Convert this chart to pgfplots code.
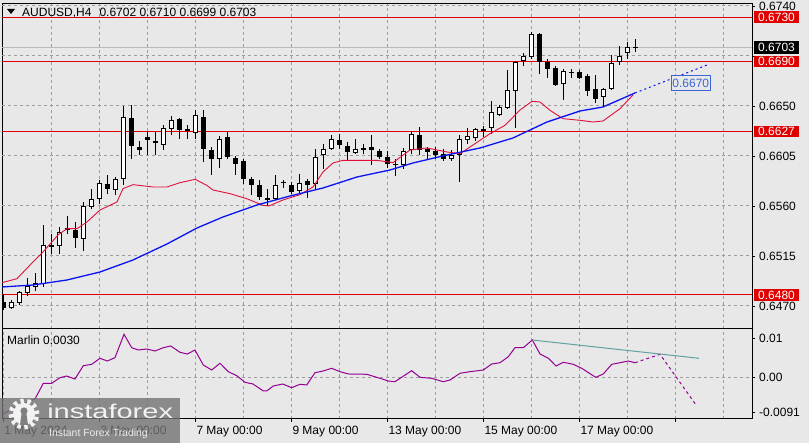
\documentclass[border=0pt]{standalone}
\usepackage{pgfplots}
\pgfplotsset{compat=1.18}
\usepackage{pgfplotstable}
\usepackage{fontspec}
\setmainfont{Liberation Sans}

\pgfdeclarelayer{background}
\pgfsetlayers{background,main}

\definecolor{bg}{HTML}{E8E8E8}
\definecolor{gridc}{HTML}{9C9C9C}
\definecolor{maRed}{HTML}{E0103A}
\definecolor{maBlue}{HTML}{0A14F0}
\definecolor{marlin}{HTML}{940094}
\definecolor{tealc}{HTML}{5FA3A0}
\definecolor{lvl}{HTML}{E00000}
\definecolor{lblblue}{HTML}{3A66D8}

% AUDUSD H4 candles: index, open, high, low, close
\pgfplotstableread{
k o h l c
0 0.64736 0.64808 0.64664 0.64682
1 0.64682 0.64754 0.64673 0.64736
2 0.64727 0.64835 0.64709 0.64826
3 0.64817 0.64952 0.64790 0.64880
4 0.64871 0.64997 0.64835 0.64907
5 0.64898 0.65429 0.64871 0.65249
6 0.65249 0.65348 0.65168 0.65231
7 0.65240 0.65411 0.65168 0.65366
8 0.65402 0.65510 0.65348 0.65384
9 0.65384 0.65456 0.65222 0.65312
10 0.65303 0.65636 0.65195 0.65600
11 0.65591 0.65753 0.65573 0.65663
12 0.65663 0.65834 0.65618 0.65807
13 0.65798 0.65879 0.65708 0.65753
14 0.65744 0.65861 0.65699 0.65843
15 0.65843 0.66500 0.65789 0.66401
16 0.66392 0.66509 0.66023 0.66140
17 0.66131 0.66185 0.66059 0.66104
18 0.66221 0.66275 0.66059 0.66194
19 0.66185 0.66266 0.66059 0.66167
20 0.66149 0.66329 0.66104 0.66302
21 0.66293 0.66410 0.66239 0.66374
22 0.66383 0.66392 0.66203 0.66284
23 0.66293 0.66329 0.66203 0.66275
24 0.66257 0.66464 0.66203 0.66419
25 0.66401 0.66464 0.65996 0.66113
26 0.66104 0.66131 0.65879 0.66023
27 0.66023 0.66230 0.65942 0.66203
28 0.66221 0.66266 0.66023 0.66041
29 0.66032 0.66050 0.65879 0.65978
30 0.66005 0.66023 0.65798 0.65843
31 0.65843 0.65861 0.65699 0.65789
32 0.65789 0.65834 0.65654 0.65681
33 0.65672 0.65753 0.65600 0.65654
34 0.65663 0.65879 0.65654 0.65789
35 0.65807 0.65834 0.65762 0.65807
36 0.65789 0.65816 0.65708 0.65726
37 0.65735 0.65888 0.65708 0.65807
38 0.65825 0.65843 0.65672 0.65789
39 0.65798 0.66113 0.65753 0.66041
40 0.66059 0.66158 0.65933 0.66113
41 0.66113 0.66239 0.66104 0.66203
42 0.66194 0.66248 0.66113 0.66149
43 0.66140 0.66176 0.66014 0.66086
44 0.66077 0.66203 0.66068 0.66113
45 0.66104 0.66158 0.66068 0.66122
46 0.66131 0.66239 0.65969 0.66104
47 0.66095 0.66113 0.66023 0.66041
48 0.66041 0.66095 0.65942 0.65978
49 0.65969 0.66023 0.65870 0.65978
50 0.65969 0.66122 0.65933 0.66095
51 0.66104 0.66275 0.66068 0.66248
52 0.66239 0.66311 0.66059 0.66104
53 0.66113 0.66131 0.66023 0.66086
54 0.66095 0.66131 0.66023 0.66059
55 0.66068 0.66113 0.66005 0.66023
56 0.66023 0.66104 0.66005 0.66059
57 0.66059 0.66239 0.65816 0.66203
58 0.66194 0.66302 0.66158 0.66230
59 0.66212 0.66302 0.66185 0.66293
60 0.66293 0.66320 0.66221 0.66275
61 0.66302 0.66545 0.66248 0.66446
62 0.66419 0.66509 0.66410 0.66491
63 0.66482 0.66824 0.66473 0.66644
64 0.66635 0.66905 0.66302 0.66896
65 0.66905 0.66977 0.66860 0.66950
66 0.66941 0.67166 0.66923 0.67148
67 0.67148 0.67157 0.66788 0.66896
68 0.66896 0.66923 0.66752 0.66833
69 0.66842 0.66860 0.66680 0.66689
70 0.66698 0.66833 0.66554 0.66815
71 0.66806 0.66833 0.66752 0.66797
72 0.66806 0.66824 0.66743 0.66752
73 0.66770 0.66788 0.66590 0.66635
74 0.66653 0.66779 0.66527 0.66563
75 0.66581 0.66662 0.66500 0.66653
76 0.66653 0.66959 0.66644 0.66887
77 0.66896 0.67040 0.66869 0.66950
78 0.66977 0.67076 0.66923 0.67031
79 0.67020 0.67100 0.66990 0.67030
}\candles

% slow moving average (blue)
\pgfplotstableread{
k v
-0.16 0.64871
3.71 0.64889
7.96 0.64934
12.09 0.65006
16.21 0.65114
20.46 0.65258
24.21 0.65402
27.46 0.65501
31.71 0.65609
35.84 0.65690
39.96 0.65762
44.21 0.65861
48.34 0.65924
51.21 0.65987
55.46 0.66059
59.59 0.66122
63.71 0.66212
67.96 0.66356
72.09 0.66455
74.96 0.66491
78.96 0.66617
}\maslow

% fast moving average (red)
\pgfplotstableread{
k v
-0.16 0.64910
1.71 0.64946
3.71 0.65096
4.96 0.65186
6.84 0.65339
7.96 0.65396
9.21 0.65396
10.46 0.65456
12.09 0.65564
14.21 0.65636
14.96 0.65756
16.21 0.65792
18.71 0.65771
20.46 0.65771
22.09 0.65810
23.99 0.65840
25.43 0.65786
26.21 0.65744
28.34 0.65711
30.42 0.65666
32.46 0.65606
33.20 0.65600
34.96 0.65654
37.09 0.65702
38.71 0.65771
39.96 0.65906
41.21 0.65987
42.46 0.66011
46.71 0.66011
48.71 0.65990
50.84 0.66104
52.96 0.66122
55.46 0.66086
57.09 0.66071
58.71 0.66149
60.84 0.66251
62.71 0.66326
64.59 0.66464
66.09 0.66542
67.09 0.66536
68.34 0.66461
69.96 0.66386
72.09 0.66371
73.71 0.66356
74.96 0.66365
77.09 0.66476
78.71 0.66599
}\mafast

% Marlin oscillator
\pgfplotstableread{
k v
-0.08 -0.00949
1.25 -0.00795
2.71 -0.00667
3.96 -0.00556
5.00 -0.00154
6.05 -0.00154
7.09 -0.00010
7.92 0.00033
8.96 -0.00044
10.00 0.00297
11.05 0.00333
12.09 0.00487
13.00 0.00418
13.96 0.00503
15.09 0.01103
16.05 0.00759
16.88 0.00700
17.93 0.00726
18.96 0.00674
20.00 0.00759
20.93 0.00803
22.09 0.00641
23.00 0.00597
23.96 0.00700
25.00 0.00315
26.05 0.00187
27.09 0.00359
28.13 0.00144
29.18 0.00041
30.21 -0.00128
31.21 -0.00172
32.50 -0.00351
32.93 -0.00351
33.75 -0.00223
34.93 -0.00172
36.05 -0.00267
37.09 -0.00179
37.93 -0.00197
38.96 0.00118
40.00 0.00162
41.05 0.00231
42.09 0.00144
43.13 0.00085
45.43 0.00077
47.09 -0.00026
48.13 -0.00095
48.96 -0.00113
49.59 -0.00026
51.05 0.00169
52.09 0.00000
53.55 -0.00026
55.00 -0.00113
55.84 -0.00069
57.09 0.00103
58.34 0.00144
60.00 0.00187
61.05 0.00341
62.09 0.00374
63.13 0.00528
63.96 0.00759
65.00 0.00759
66.13 0.00956
67.09 0.00597
68.13 0.00487
69.09 0.00290
70.00 0.00385
71.25 0.00333
72.30 0.00231
74.05 0.00000
75.00 0.00085
76.05 0.00333
77.09 0.00374
78.13 0.00418
78.96 0.00374
}\marlin

\tikzset{
  lvlbox/.style={anchor=west, fill=lvl, text=white, inner xsep=4.5pt,
    inner ysep=0pt, minimum height=11.5pt, xshift=1.5pt},
  gridline/.style={gridc, dash pattern=on 3pt off 3pt, line width=1pt},
}

\begin{document}
\fontsize{12}{14}\selectfont
\begin{tikzpicture}[x=1pt,y=1pt]

% price panel
\begin{axis}[width=750pt, height=325pt, scale only axis,
  xmin=-0.1625, xmax=93.5875, ymin=0.64493, ymax=0.67418,
  clip mode=individual,
  axis line style={black, line width=1pt},
  xtick=\empty,
  ytick={0.6470,0.6515,0.6560,0.6605,0.6650,0.6695,0.6740},
  yticklabels={0.6470,0.6515,0.6560,0.6605,0.6650,,0.6740},
  scaled y ticks=false,
  ytick pos=right, yticklabel pos=right,
  ytick style={black, line width=0.8pt},
  tick align=outside, major tick length=3pt,
  yticklabel style={anchor=west},
]
\coordinate (Asw) at (rel axis cs:0,0);
% dashed grid of the price panel
\pgfplotsinvokeforeach{6,12,18,24,30,36,42,48,54,60,66,72,78,84,90}{
  \draw[gridline] (axis cs:#1,0.64493) -- (axis cs:#1,0.67418);
}
\pgfplotsinvokeforeach{0.6470,0.6515,0.6560,0.6605,0.6650,0.6695,0.6740}{
  \draw[gridline] (axis cs:-0.1625,#1) -- (axis cs:93.5875,#1);
}
\addplot[gray!55, line width=0.8pt] coordinates {(-0.1625,0.6703) (93.5875,0.6703)};
\addplot[lvl, line width=1pt] coordinates {(-0.1625,0.6730) (93.5875,0.6730)};
\addplot[lvl, line width=1pt] coordinates {(-0.1625,0.6690) (93.5875,0.6690)};
\addplot[lvl, line width=1pt] coordinates {(-0.1625,0.6627) (93.5875,0.6627)};
\addplot[lvl, line width=1pt] coordinates {(-0.1625,0.6480) (93.5875,0.6480)};
% wicks
\addplot[draw=none, mark=none,
  error bars/.cd, y dir=both, y explicit, error mark=none,
  error bar style={draw=black, solid, line width=1pt}]
  table[x=k, y=c, y error plus expr=\thisrow{h}-\thisrow{c},
        y error minus expr=\thisrow{c}-\thisrow{l}] {\candles};
% bodies (black), then hollow inside of rising candles
\addplot[draw=none, mark=none,
  error bars/.cd, y dir=plus, y explicit, error mark=none,
  error bar style={draw=black, solid, line width=5pt}]
  table[x=k, y expr={min(\thisrow{o},\thisrow{c})},
        y error plus expr={max(abs(\thisrow{c}-\thisrow{o}),0.0001)}] {\candles};
\addplot[draw=none, mark=none,
  error bars/.cd, y dir=plus, y explicit, error mark=none,
  error bar style={draw=white, solid, line width=3pt}]
  table[x=k, y expr={\thisrow{o}+0.00009},
        y error plus expr={max(\thisrow{c}-\thisrow{o}-0.00018,0)}] {\candles};
% moving averages
\addplot[maRed, line width=0.9pt] table[x=k, y=v] {\mafast};
\addplot[maBlue, line width=1.3pt] table[x=k, y=v] {\maslow};
\addplot[maBlue, line width=1pt, dash pattern=on 2pt off 3pt] coordinates {(78.96,0.66617) (87.96,0.66869)};
\node[draw=lblblue, fill=bg, text=lblblue, inner xsep=1pt, inner ysep=0pt, minimum height=15pt]
  at (axis cs:85.93,0.66707) {0.6670};
\node[lvlbox] at (axis cs:93.5875,0.6730) {0.6730};
\node[lvlbox] at (axis cs:93.5875,0.6690) {0.6690};
\node[lvlbox] at (axis cs:93.5875,0.6627) {0.6627};
\node[lvlbox] at (axis cs:93.5875,0.6480) {0.6480};
\node[lvlbox, fill=black, minimum height=13pt] at (axis cs:93.5875,0.6703) {0.6703};
\end{axis}

% Marlin panel
\begin{axis}[width=750pt, height=90pt, scale only axis,
  at={([yshift=-2pt]Asw)}, anchor=north west,
  xmin=-0.1625, xmax=93.5875, ymin=-0.010692, ymax=0.012385,
  axis line style={black, line width=1pt},
  xtick={0,12,...,84},
  xticklabels={1 May 2024,3 May 00:00,7 May 00:00,9 May 00:00,13 May 00:00,15 May 00:00,17 May 00:00,},
  minor xtick={6,18,...,90},
  xtick pos=bottom, xmajorgrids, xminorgrids,
  ytick={0}, yticklabels={0.00}, ymajorgrids,
  extra y ticks={-0.0091,0.01}, extra y tick labels={-0.0091,0.01},
  extra y tick style={grid=none},
  scaled y ticks=false,
  ytick pos=right, yticklabel pos=right,
  tick align=outside, major tick length=3pt, minor tick length=0pt,
  tick style={black, line width=0.8pt},
  grid style={gridc, dash pattern=on 3pt off 3pt, line width=1pt},
  minor grid style={gridc, dash pattern=on 3pt off 3pt, line width=1pt},
  yticklabel style={anchor=west},
  xticklabel style={anchor=north west, xshift=-3pt},
]
\coordinate (Dsw) at (rel axis cs:0,0);
\addplot[marlin, line width=1pt] table[x=k, y=v] {\marlin};
\addplot[marlin, line width=1pt, dash pattern=on 3pt off 3pt] coordinates {(78.96,0.00374) (82.09,0.0059) (86.68,-0.00736)};
\addplot[tealc, line width=1pt] coordinates {(66.13,0.00956) (86.96,0.00487)};
\end{axis}

% header and indicator name (placed from the lower panel corner)
\fill[black] ([shift={(5,410)}]Dsw) -- ([shift={(13,410)}]Dsw) -- ([shift={(9,405)}]Dsw) -- cycle;
\node[anchor=base west, inner sep=0pt] at ([shift={(20,402)}]Dsw) {AUDUSD,H4\hspace{8pt}0.6702 0.6710 0.6699 0.6703};
\node[anchor=base west, inner sep=0pt] at ([shift={(5,74)}]Dsw) {Marlin 0.0030};

% watermark
\fill[black!55, fill opacity=0.8] ([shift={(-2,21)}]Dsw) rectangle ([shift={(178,-24)}]Dsw);
\begin{scope}[shift={(Dsw)}]
\draw[white!90!gray, line width=5pt, dash pattern=on 3.4pt off 3.4pt] (22,5) circle (13);
\fill[white!90!gray] (22,5) circle (11);
\fill[black!50] (22,8) circle (3.6);
\fill[black!50] (19.5,5) -- (24.5,5) -- (26,-6) -- (18,-6) -- cycle;
\end{scope}
\node[anchor=base west, inner sep=0pt, xscale=1.45, text=white!90!gray, font=\fontsize{20}{22}\selectfont] at ([shift={(45,0)}]Dsw) {instaforex};
\node[anchor=base west, inner sep=0pt, text=white!85!gray, font=\fontsize{10.4}{12}\selectfont] at ([shift={(47,-18)}]Dsw) {Instant Forex Trading};

% page: 809 x 443 around the panels
\pgfresetboundingbox
\path[use as bounding box] ([shift={(-2,-24)}]Dsw) rectangle ([shift={(807,419)}]Dsw);
\begin{pgfonlayer}{background}
\fill[bg] ([shift={(-2,-24)}]Dsw) rectangle ([shift={(807,419)}]Dsw);
\end{pgfonlayer}
\end{tikzpicture}
\end{document}
